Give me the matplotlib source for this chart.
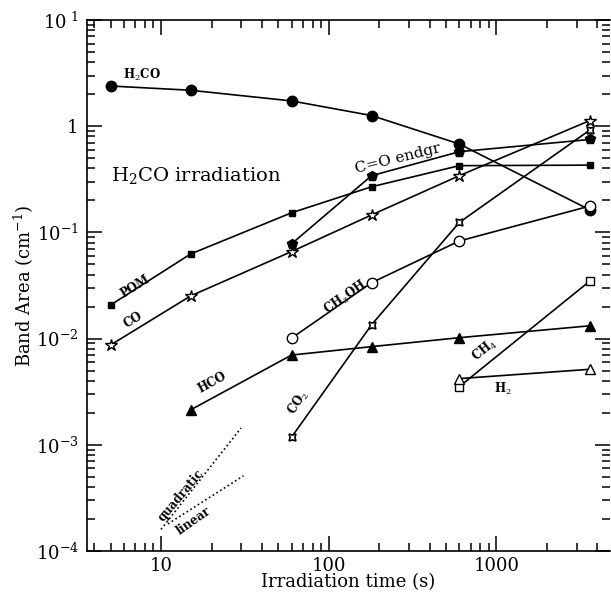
import matplotlib
matplotlib.use("Agg")
import matplotlib.pyplot as plt
from matplotlib.ticker import LogLocator, NullFormatter, FixedLocator, FixedFormatter

plt.rcParams['font.family'] = ['DejaVu Serif']
plt.rcParams['mathtext.fontset'] = 'dejavuserif'

# irradiation times (s)
t_all = [5, 15, 60, 180, 600, 3600]
t_60 = [60, 180, 600, 3600]
t_15 = [15, 60, 180, 600, 3600]
t_600 = [600, 3600]

# band areas (cm^-1)
h2co = [2.39, 2.18, 1.73, 1.26, 0.68, 0.163]
pom = [0.0207, 0.0626, 0.153, 0.269, 0.425, 0.43]
endgr = [0.078, 0.342, 0.575, 0.75]
co = [0.0087, 0.0252, 0.066, 0.146, 0.342, 1.13]
ch3oh = [0.0101, 0.0336, 0.083, 0.177]
hco = [0.00213, 0.0070, 0.0084, 0.0102, 0.0132]
co2 = [0.00118, 0.0135, 0.124, 0.92]
ch4 = [0.00353, 0.0348]
h2 = [0.0042, 0.00514]

# guide lines
quad_x = [10, 30]
quad_y = [1.6e-4, 1.44e-3]
lin_x = [11, 31]
lin_y = [1.8e-4, 5.1e-4]

fig = plt.figure(figsize=(6.11, 5.96), dpi=100)
ax = fig.add_axes([87 / 611, 1 - 551 / 596, 523 / 611, 531 / 596])

lw = 1.2
ax.plot(t_all, h2co, '-o', color='k', lw=lw, ms=7.5)
ax.plot(t_all, pom, '-s', color='k', lw=lw, ms=5)
ax.plot(t_60, endgr, '-p', color='k', lw=lw, ms=7)
ax.plot(t_all, co, '-*', color='k', lw=lw, ms=9, mfc='white', mew=1.0)
ax.plot(t_60, ch3oh, '-o', color='k', lw=lw, ms=7.5, mfc='white', mew=1.0)
ax.plot(t_15, hco, '-^', color='k', lw=lw, ms=6.5)
ax.plot(t_60, co2, '-', color='k', lw=lw, marker=(4, 1, 45), ms=7, mfc='white', mew=1.2)
ax.plot(t_600, ch4, '-s', color='k', lw=lw, ms=5.5, mfc='white', mew=1.0)
ax.plot(t_600, h2, '-^', color='k', lw=lw, ms=6.5, mfc='white', mew=1.0)
ax.plot(quad_x, quad_y, ':', color='k', lw=1.2)
ax.plot(lin_x, lin_y, ':', color='k', lw=1.2)

ax.set_xscale('log')
ax.set_yscale('log')
ax.set_xlim(3.62, 4750)
ax.set_ylim(1e-4, 10)

yt = [1e-4, 1e-3, 1e-2, 1e-1, 1, 10]
ax.yaxis.set_major_locator(FixedLocator(yt))
ax.yaxis.set_major_formatter(FixedFormatter(
    ['$10^{-4}$', '$10^{-3}$', '$10^{-2}$', '$10^{-1}$', '1', '$10^{\\ 1}$']))
ax.yaxis.set_minor_locator(LogLocator(base=10, subs=range(2, 10), numticks=20))
ax.yaxis.set_minor_formatter(NullFormatter())
ax.xaxis.set_major_locator(FixedLocator([10, 100, 1000]))
ax.xaxis.set_major_formatter(FixedFormatter(['10', '100', '1000']))
ax.xaxis.set_minor_locator(LogLocator(base=10, subs=range(2, 10), numticks=20))
ax.xaxis.set_minor_formatter(NullFormatter())

ax.tick_params(which='both', direction='in', top=True, right=True, labelsize=13, width=1.1)
ax.tick_params(which='major', length=11, pad=6)
ax.tick_params(axis='x', which='major', pad=4)
ax.tick_params(which='minor', length=6)
for s in ax.spines.values():
    s.set_linewidth(1.2)
ax.spines['right'].set_visible(False)

ax.set_xlabel('Irradiation time (s)', fontsize=13, labelpad=-1)
ax.set_ylabel('Band Area (cm$^{-1}$)', fontsize=13, labelpad=0)

ax.text(5.0, 0.34, 'H$_2$CO irradiation', fontsize=14, ha='left', va='center')
sm = dict(fontsize=8.5, ha='center', va='center', fontweight='bold')
ax.text(7.7, 3.03, 'H$_2$CO', **sm)
ax.text(7.0, 0.0306, 'POM', rotation=32, **sm)
ax.text(6.8, 0.0150, 'CO', rotation=31, **sm)
ax.text(259, 0.50, 'C=O endgr', rotation=14, fontsize=11, ha='center', va='center')
ax.text(125, 0.0247, 'CH$_3$OH', rotation=35, **sm)
ax.text(20.1, 0.00382, 'HCO', rotation=29, **sm)
ax.text(65.6, 0.00248, 'CO$_2$', rotation=57, **sm)
ax.text(855, 0.00781, 'CH$_4$', rotation=39, **sm)
ax.text(1094, 0.00335, 'H$_2$', **sm)
ax.text(13.2, 3.37e-4, 'quadratic', rotation=50, **sm)
ax.text(15.7, 1.91e-4, 'linear', rotation=35, **sm)

fig.savefig('out.png', dpi=100)
